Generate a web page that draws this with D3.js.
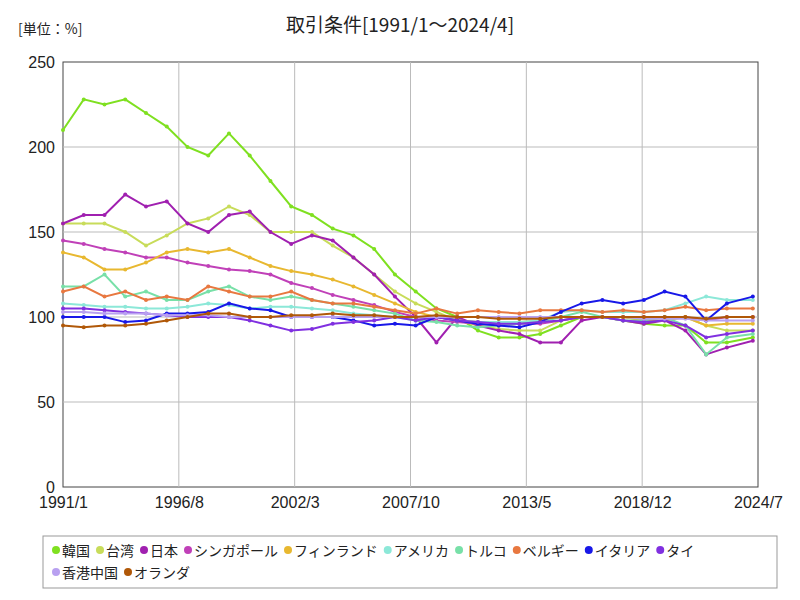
<!DOCTYPE html>
<html><head><meta charset="utf-8">
<script src="https://cdn.jsdelivr.net/npm/d3@7"></script>
<style>body{margin:0;background:#fff;font-family:"Noto Sans CJK JP","DejaVu Sans",sans-serif}</style>
</head><body><svg id="c" width="800" height="600"></svg>
<script>
const years = [1991,1992,1993,1994,1995,1996,1997,1998,1999,2000,2001,2002,2003,2004,2005,2006,2007,2008,2009,2010,2011,2012,2013,2014,2015,2016,2017,2018,2019,2020,2021,2022,2023,2024.25];
const xTickLabels = ["1991/1","1996/8","2002/3","2007/10","2013/5","2018/12","2024/7"];
const xTickVals = [1991,1996+7/12,2002+2/12,2007+9/12,2013+4/12,2018+11/12,2024.5];
const yTicks = [0,50,100,150,200,250];
const names = ["韓国","台湾","日本","シンガポール","フィンランド","アメリカ","トルコ","ベルギー","イタリア","タイ","香港中国","オランダ"];
const colors = ["#7fe020","#c8dc5a","#a020b0","#c040b8","#e8b830","#8ce8d8","#78e0a8","#e87840","#1818e8","#8030e0","#b8a0f0","#b05808"];
const korea = [210,228,225,228,220,212,200,195,208,195,180,165,160,152,148,140,125,115,105,100,92,88,88,90,95,100,100,98,96,95,95,85,85,88];
const taiwan = [155,155,155,150,142,148,155,158,165,160,150,150,150,142,135,125,115,108,103,98,95,93,92,92,98,100,100,100,98,100,100,95,92,92];
const japan = [155,160,160,172,165,168,155,150,160,162,150,143,148,145,135,125,112,100,85,100,95,92,90,85,85,98,100,98,96,98,92,78,82,86];
const singapore = [145,143,140,138,135,135,132,130,128,127,125,120,117,113,110,107,103,100,98,97,96,95,96,96,98,100,100,100,100,100,100,98,100,100];
const finland = [138,135,128,128,132,138,140,138,140,135,130,127,125,122,118,113,108,103,100,98,97,97,97,98,100,100,100,100,98,98,100,95,96,96];
const usa = [108,107,106,106,105,105,106,108,107,105,106,106,105,104,102,101,100,98,100,98,97,97,97,98,103,104,103,103,103,104,108,112,110,110];
const turkey = [118,118,125,112,115,110,110,115,118,112,110,112,110,108,106,104,102,98,97,95,94,95,96,97,100,103,100,98,98,100,95,78,88,90];
const belgium = [115,118,112,115,110,112,110,118,115,112,112,115,110,108,108,106,104,102,105,102,104,103,102,104,104,104,103,104,103,104,106,104,105,105];
const italy = [100,100,100,97,98,102,102,103,108,105,104,100,100,100,98,95,96,95,100,98,96,95,94,97,103,108,110,108,110,115,112,98,108,112];
const thai = [105,105,104,103,102,101,100,100,100,98,95,92,93,96,97,98,100,98,100,98,97,96,96,97,98,100,100,98,97,98,95,88,90,92];
const hongkong = [103,103,102,102,102,101,101,101,100,100,100,100,100,100,100,100,100,100,100,100,100,100,100,100,100,100,100,100,99,99,99,98,98,98];
const netherlands = [95,94,95,95,96,98,100,102,102,100,100,101,101,102,101,101,100,100,101,100,100,99,99,99,100,100,100,100,100,100,100,99,100,100];
const series = [korea,taiwan,japan,singapore,finland,usa,turkey,belgium,italy,thai,hongkong,netherlands];

const svg = d3.select("#c");
const L=63,R=758,T=62,B=487;
const x = d3.scaleLinear().domain([1991,2024.5]).range([L,R]);
const y = d3.scaleLinear().domain([0,250]).range([B,T]);
svg.append("rect").attr("x",L).attr("y",T).attr("width",R-L).attr("height",B-T).attr("fill","#fff").attr("stroke","#444");
xTickVals.slice(1,-1).forEach(v=>svg.append("line").attr("x1",x(v)).attr("x2",x(v)).attr("y1",T).attr("y2",B).attr("stroke","#bbb"));
yTicks.slice(1,-1).forEach(v=>svg.append("line").attr("x1",L).attr("x2",R).attr("y1",y(v)).attr("y2",y(v)).attr("stroke","#bbb"));
const ya = svg.append("g").attr("transform",`translate(${L},0)`).call(d3.axisLeft(y).tickValues(yTicks).tickSize(0).tickPadding(8));
ya.select(".domain").remove(); ya.selectAll("text").attr("font-size",16).attr("fill","#222");
const xa = svg.append("g").attr("transform",`translate(0,${B})`).call(d3.axisBottom(x).tickValues(xTickVals).tickFormat((d,i)=>xTickLabels[i]).tickSize(0).tickPadding(10));
xa.select(".domain").remove(); xa.selectAll("text").attr("font-size",16).attr("fill","#222");
const line = d3.line().x((d,i)=>x(years[i])).y(d=>y(d));
series.forEach((s,k)=>{
  const g=svg.append("g");
  g.append("path").attr("d",line(s)).attr("fill","none").attr("stroke",colors[k]).attr("stroke-width",2);
  g.selectAll("circle").data(s).join("circle").attr("cx",(d,i)=>x(years[i])).attr("cy",d=>y(d)).attr("r",2).attr("fill",colors[k]);
});
svg.append("text").attr("x",400).attr("y",32).attr("text-anchor","middle").attr("font-size",19).attr("fill","#222").text("取引条件[1991/1～2024/4]");
svg.append("text").attr("x",18).attr("y",34).attr("font-size",14).attr("fill","#222").text("[単位：%]");
svg.append("rect").attr("x",43).attr("y",536).attr("width",734).attr("height",52).attr("fill","#fff").attr("stroke","#999");
let lx=52, ly=551;
names.forEach((n,k)=>{
  if(k===10){lx=52;ly=573;}
  svg.append("circle").attr("cx",lx+4).attr("cy",ly-1).attr("r",4).attr("fill",colors[k]);
  const t=svg.append("text").attr("x",lx+10).attr("y",ly+5).attr("font-size",14).attr("fill","#222").text(n);
  lx += t.node().getComputedTextLength()+16;
});
</script></body></html>
